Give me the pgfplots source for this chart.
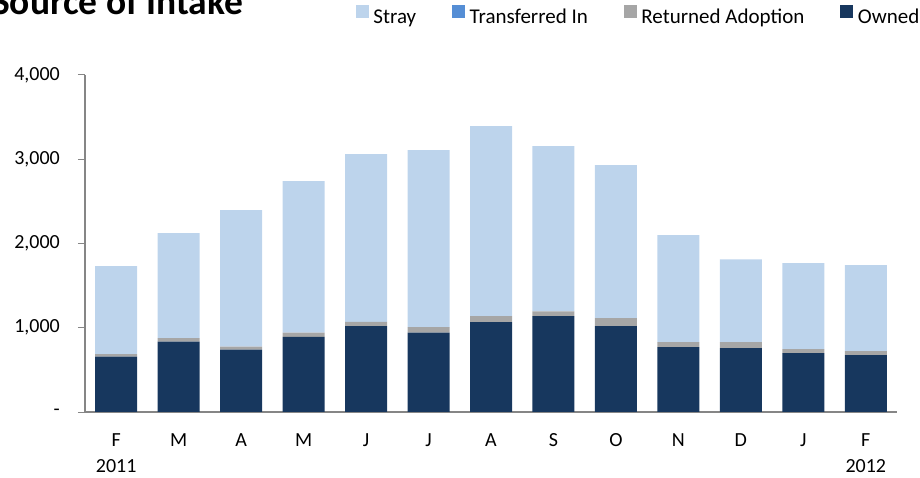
\documentclass[border=0pt]{standalone}
\usepackage{pgfplots}
\pgfplotsset{compat=1.18}
\usepackage{fontspec}
\setmainfont{Carlito}
\definecolor{stray}{HTML}{BDD4EC}
\definecolor{transf}{HTML}{558ED5}
\definecolor{retad}{HTML}{A6A6A6}
\definecolor{owned}{HTML}{17375E}
\definecolor{axgray}{HTML}{868686}
\begin{document}
\begin{tikzpicture}
\useasboundingbox (0,0) rectangle (920bp,478bp);
\node[anchor=base west, inner sep=0pt, font=\fontsize{37.5bp}{40bp}\selectfont\bfseries] at (-8bp,463bp) {Source of Intake};
\begin{axis}[
  at={(85bp,66bp)}, anchor=south west,
  scale only axis, width=812bp, height=337bp,
  ybar stacked, bar width=42bp,
  xmin=-0.5, xmax=12.5, ymin=0, ymax=4000,
  axis x line*=bottom, axis y line*=left,
  axis line style={axgray, line width=1.6bp, -},
  xtick={0,...,12},
  xticklabels={{F\\2011},M,A,M,J,J,A,S,O,N,D,J,{F\\2012}},
  xtick style={draw=none},
  xticklabel style={align=center, anchor=north, inner sep=0pt, yshift=-14bp,
    font=\fontsize{20bp}{26.7bp}\selectfont},
  ytick={0,1000,2000,3000,4000},
  yticklabels={{-\hspace{10bp}},{1,000},{2,000},{3,000},{4,000}},
  ytick style={axgray, line width=1bp},
  tick align=outside, major tick length=7bp,
  yticklabel style={anchor=east, inner sep=0pt, xshift=-18bp,
    font=\fontsize{20bp}{24bp}\selectfont},
  legend columns=4,
  reverse legend,
  legend image code/.code={\fill[#1,draw=none] (0bp,-1bp) rectangle (13bp,12bp);},
  legend style={draw=none, fill=none, inner sep=0pt, outer sep=0pt,
    at={(axis description cs:0.3337,1.2069)}, anchor=north west,
    font=\fontsize{21bp}{25bp}\selectfont,
    nodes={inner sep=0pt},
    /tikz/every odd column/.append style={column sep=4.5bp},
    /tikz/every even column/.append style={column sep=36bp}},
]
\addplot[fill=owned, draw=none] coordinates {
 (0,656) (1,834) (2,739) (3,893) (4,1020) (5,941) (6,1068) (7,1139) (8,1020) (9,771) (10,759) (11,700) (12,676)};
\addlegendentry{Owned}
\addplot[fill=retad, draw=none] coordinates {
 (0,32) (1,44) (2,36) (3,48) (4,51) (5,67) (6,71) (7,55) (8,95) (9,59) (10,71) (11,47) (12,48)};
\addlegendentry{Returned Adoption}
\addplot[fill=transf, draw=none] coordinates {
 (0,0) (1,0) (2,0) (3,0) (4,0) (5,0) (6,0) (7,0) (8,0) (9,0) (10,0) (11,0) (12,0)};
\addlegendentry{Transferred In}
\addplot[fill=stray, draw=none] coordinates {
 (0,1044) (1,1245) (2,1621) (3,1799) (4,1989) (5,2100) (6,2254) (7,1961) (8,1815) (9,1270) (10,981) (11,1020) (12,1020)};
\addlegendentry{Stray}
\end{axis}
\end{tikzpicture}
\end{document}
